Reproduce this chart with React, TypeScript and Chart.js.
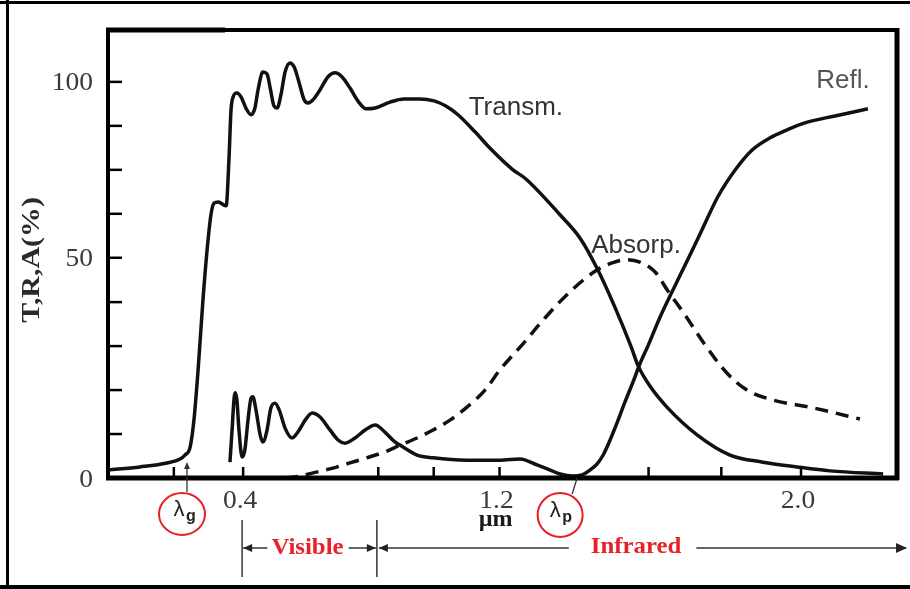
import React, { useEffect, useRef } from "react";
import { Chart, registerables } from "chart.js";

Chart.register(...registerables);

// ---- data (x in µm, y in %) ----
const TRANSM_X = [0, 0.092, 0.17, 0.208, 0.222, 0.237, 0.248, 0.26, 0.274, 0.286, 0.297, 0.306, 0.318, 0.329, 0.341, 0.349, 0.355, 0.361, 0.372, 0.384, 0.398, 0.413, 0.424, 0.433, 0.447, 0.459, 0.468, 0.479, 0.488, 0.499, 0.511, 0.525, 0.537, 0.551, 0.566, 0.577, 0.592, 0.612, 0.635, 0.655, 0.675, 0.698, 0.722, 0.745, 0.771, 0.814, 0.854, 0.9, 0.941, 0.975, 1.01, 1.059, 1.102, 1.166, 1.206, 1.305, 1.362, 1.411, 1.46, 1.509, 1.53, 1.564, 1.613, 1.7, 1.795, 1.89, 1.988, 2.084, 2.237];
const TRANSM_Y = [2.0, 2.8, 3.8, 4.8, 5.8, 7.8, 14.6, 27.3, 44.9, 57.6, 66.4, 69.4, 69.7, 69.2, 68.7, 80.3, 92.9, 96.2, 97.2, 96.2, 93.4, 91.7, 93.4, 98.0, 102.5, 102.0, 98.5, 93.9, 93.4, 96.7, 102.5, 104.8, 103.8, 100.0, 95.5, 94.7, 95.5, 98.0, 101.3, 102.3, 101.3, 98.5, 95.1, 93.2, 93.4, 94.9, 95.7, 95.7, 95.2, 93.9, 91.7, 87.4, 83.3, 78.0, 75.5, 66.4, 60.6, 53.0, 43.7, 33.3, 28.3, 23.2, 17.9, 10.9, 5.8, 4.0, 2.8, 1.8, 1.0];

const REFL_X = [0.352, 0.358, 0.364, 0.367, 0.372, 0.378, 0.387, 0.395, 0.404, 0.413, 0.418, 0.427, 0.439, 0.447, 0.459, 0.47, 0.482, 0.494, 0.511, 0.531, 0.548, 0.569, 0.589, 0.612, 0.641, 0.664, 0.684, 0.713, 0.742, 0.771, 0.799, 0.828, 0.843, 0.892, 0.938, 1.036, 1.131, 1.189, 1.238, 1.276, 1.305, 1.342, 1.368, 1.391, 1.411, 1.429, 1.449, 1.469, 1.492, 1.515, 1.535, 1.558, 1.593, 1.636, 1.674, 1.714, 1.76, 1.812, 1.859, 1.911, 1.96, 2.009, 2.098, 2.193];
const REFL_Y = [4.0, 12.1, 20.2, 21.5, 19.7, 12.1, 5.3, 7.1, 14.6, 20.2, 20.5, 17.2, 10.9, 9.1, 12.1, 17.7, 18.9, 17.2, 12.6, 10.1, 11.6, 14.6, 16.4, 15.4, 12.1, 9.6, 8.8, 10.1, 12.1, 13.4, 11.6, 9.1, 8.3, 5.8, 5.1, 4.5, 4.5, 4.8, 3.3, 2.0, 1.0, 0.5, 0.8, 2.0, 3.5, 5.8, 9.6, 13.9, 19.2, 24.2, 28.8, 33.3, 40.6, 48.5, 55.3, 62.6, 71.0, 78.0, 82.8, 85.9, 87.9, 89.6, 91.4, 93.2];

const ABS_X = [0.511, 0.554, 0.592, 0.649, 0.698, 0.747, 0.799, 0.843, 0.892, 0.938, 0.987, 1.036, 1.088, 1.131, 1.195, 1.261, 1.333, 1.411, 1.455, 1.498, 1.535, 1.579, 1.616, 1.665, 1.723, 1.786, 1.844, 1.919, 2.035, 2.17];
const ABS_Y = [0, 0.5, 1.3, 2.5, 3.8, 5.1, 6.6, 8.3, 10.1, 12.1, 14.6, 17.9, 22.2, 27.3, 33.6, 40.4, 47.0, 52.5, 54.3, 55.1, 54.5, 52.0, 47.2, 41.2, 33.6, 26.5, 22.2, 19.7, 17.7, 14.9];

const X_TICKS = [0.19, 0.39, 0.78, 0.94, 1.13, 1.56, 1.77, 2.0];
const X_TICK_LABELS = ["", "0.4", "", "", "1.2", "", "", "2.0"];
const Y_TICKS = [0, 11.1, 22.2, 33.3, 44.4, 55.6, 66.7, 77.8, 88.9, 100];
const Y_TICK_LABELS = ["0", "", "", "", "", "50", "", "", "", "100"];

const LAMBDA_G = 0.228;
const LAMBDA_P = 1.351;
const VISIBLE_RANGE = [0.387, 0.776];

const SERIES_LABELS = [
  { text: "Transm.", x: 1.177, y: 93.4, color: "#333" },
  { text: "Refl.", x: 2.121, y: 100.2, color: "#555" },
  { text: "Absorp.", x: 1.524, y: 58.6, color: "#333" },
];

const RED = "rgb(232,32,40)";
const SERIF = '"Liberation Serif", "DejaVu Serif", serif';
const SANS = '"Liberation Sans", Arial, sans-serif';

function pts(xs: number[], ys: number[]) {
  return xs.map((x, i) => ({ x, y: ys[i] }));
}

function txt(
  ctx: CanvasRenderingContext2D,
  s: string,
  x: number,
  y: number,
  font: string,
  color: string,
  align: CanvasTextAlign = "center",
  sx = 1
) {
  ctx.save();
  ctx.translate(x, y);
  ctx.scale(sx, 1);
  ctx.font = font;
  ctx.fillStyle = color;
  ctx.textAlign = align;
  ctx.textBaseline = "middle";
  ctx.fillText(s, 0, 0);
  ctx.restore();
}

function arrowHead(ctx: CanvasRenderingContext2D, x: number, y: number, dx: number, dy: number, len = 9, half = 4) {
  const px = -dy, py = dx;
  ctx.beginPath();
  ctx.moveTo(x, y);
  ctx.lineTo(x - dx * len + px * half, y - dy * len + py * half);
  ctx.lineTo(x - dx * len - px * half, y - dy * len - py * half);
  ctx.closePath();
  ctx.fill();
}

function line(ctx: CanvasRenderingContext2D, x1: number, y1: number, x2: number, y2: number) {
  ctx.beginPath();
  ctx.moveTo(x1, y1);
  ctx.lineTo(x2, y2);
  ctx.stroke();
}

const overlay = {
  id: "overlay",
  afterDatasetsDraw(chart: any) {
    const ctx: CanvasRenderingContext2D = chart.ctx;
    const { left, right, top, bottom } = chart.chartArea;
    const X = (v: number) => chart.scales.x.getPixelForValue(v);
    const Y = (v: number) => chart.scales.y.getPixelForValue(v);
    const W = chart.width;
    const H = chart.height;
    ctx.save();

    // outer frame (left, top, bottom)
    ctx.strokeStyle = "#000";
    ctx.lineWidth = 3;
    line(ctx, 7.5, 0, 7.5, H);
    line(ctx, 0, 2.5, W, 2.5);
    ctx.lineWidth = 4;
    line(ctx, 0, H - 2, W, H - 2);

    // plot box
    ctx.lineWidth = 4;
    ctx.strokeRect(left, top, right - left, bottom - top);
    ctx.lineWidth = 5;
    line(ctx, left - 2, top, left + 117, top);
    line(ctx, right, top - 2, right, bottom + 2);
    line(ctx, left - 2, bottom, right + 2, bottom);

    // y ticks + labels
    ctx.lineWidth = 2.5;
    Y_TICKS.forEach((v, i) => {
      const y = Y(v);
      if (i > 0) line(ctx, left, y, left + 14, y);
      const lab = Y_TICK_LABELS[i];
      if (lab) txt(ctx, lab, left - 15, y + 2, `25px ${SERIF}`, "#3a3a3a", "right", 1.1);
    });

    // x ticks + labels
    X_TICKS.forEach((v, i) => {
      const x = X(v);
      line(ctx, x, bottom, x, bottom - 11);
      const lab = X_TICK_LABELS[i];
      if (lab) txt(ctx, lab, x - 3, bottom + 23, `25px ${SERIF}`, "#3a3a3a", "center", 1.1);
    });
    txt(ctx, "µm", X(X_TICKS[4]) - 4, bottom + 42, `bold 24px ${SERIF}`, "#1a1a1a");

    // y axis title
    ctx.save();
    ctx.translate(32, (top + bottom) / 2 + 6);
    ctx.rotate(-Math.PI / 2);
    ctx.scale(1.15, 1);
    ctx.font = `bold 26px ${SERIF}`;
    ctx.fillStyle = "#2a2a2a";
    ctx.textAlign = "center";
    ctx.textBaseline = "middle";
    ctx.fillText("T,R,A(%)", 0, 0);
    ctx.restore();

    // series labels
    SERIES_LABELS.forEach((l) => txt(ctx, l.text, X(l.x), Y(l.y), `26px ${SANS}`, l.color));

    // lambda_g marker
    ctx.strokeStyle = "#333";
    ctx.fillStyle = "#333";
    ctx.lineWidth = 1.3;
    const gx = X(LAMBDA_G);
    line(ctx, gx, bottom + 14, gx, bottom - 12);
    arrowHead(ctx, gx, bottom - 16, 0, -1, 7, 3);
    const gcx = gx - 5, gcy = bottom + 36;
    ctx.strokeStyle = RED;
    ctx.lineWidth = 2;
    ctx.beginPath();
    ctx.ellipse(gcx, gcy, 23, 21, 0, 0, Math.PI * 2);
    ctx.stroke();
    txt(ctx, "λ", gcx - 3, gcy - 4, `22px ${SANS}`, "#222");
    txt(ctx, "g", gcx + 9, gcy + 3, `bold 16px ${SANS}`, "#222");

    // lambda_p marker
    const pxl = X(LAMBDA_P);
    const pcx = pxl - 16, pcy = bottom + 37;
    ctx.strokeStyle = "#333";
    ctx.lineWidth = 1.3;
    line(ctx, pcx + 12, pcy - 21, pxl + 1, bottom);
    ctx.strokeStyle = RED;
    ctx.lineWidth = 2;
    ctx.beginPath();
    ctx.ellipse(pcx, pcy, 22.5, 22, 0, 0, Math.PI * 2);
    ctx.stroke();
    txt(ctx, "λ", pcx - 5, pcy - 4, `22px ${SANS}`, "#222");
    txt(ctx, "p", pcx + 7, pcy + 3, `bold 16px ${SANS}`, "#222");

    // Visible / Infrared bands
    const v1 = X(VISIBLE_RANGE[0]);
    const v2 = X(VISIBLE_RANGE[1]);
    const ay = bottom + 70;
    ctx.strokeStyle = "#333";
    ctx.fillStyle = "#222";
    ctx.lineWidth = 1.5;
    line(ctx, v1, bottom + 42, v1, bottom + 99);
    line(ctx, v2, bottom + 42, v2, bottom + 99);

    const visFont = `bold 23px ${SERIF}`;
    ctx.font = visFont;
    const visW = ctx.measureText("Visible").width * 1.08;
    const visC = (v1 + v2) / 2 - 2;
    ctx.lineWidth = 1.5;
    line(ctx, v1 + 1, ay, visC - visW / 2 - 4, ay);
    line(ctx, visC + visW / 2 + 5, ay, v2 - 1, ay);
    arrowHead(ctx, v1 + 1, ay, -1, 0, 9, 4);
    arrowHead(ctx, v2 - 1, ay, 1, 0, 9, 4);
    txt(ctx, "Visible", visC, ay, visFont, RED, "center", 1.08);

    ctx.font = visFont;
    const irW = ctx.measureText("Infrared").width * 1.08;
    const irC = X(1.524);
    line(ctx, v2 + 2, ay, irC - irW / 2 - 22, ay);
    line(ctx, irC + irW / 2 + 15, ay, W - 4, ay);
    arrowHead(ctx, v2 + 2, ay, -1, 0, 9, 4);
    arrowHead(ctx, W - 3, ay, 1, 0, 11, 5);
    txt(ctx, "Infrared", irC, ay - 1, visFont, RED, "center", 1.08);

    ctx.restore();
  },
};

export default function App() {
  const ref = useRef<HTMLCanvasElement | null>(null);

  useEffect(() => {
    document.body.style.margin = "0";
    const canvas = ref.current;
    if (!canvas) return;
    const base = {
      borderColor: "#111",
      borderWidth: 3.5,
      pointRadius: 0,
      fill: false,
      cubicInterpolationMode: "monotone" as const,
    };
    const chart = new Chart(canvas, {
      type: "line",
      data: {
        datasets: [
          { ...base, label: "Transm.", data: pts(TRANSM_X, TRANSM_Y) },
          { ...base, label: "Refl.", data: pts(REFL_X, REFL_Y) },
          { ...base, label: "Absorp.", data: pts(ABS_X, ABS_Y), borderDash: [13, 8] },
        ],
      },
      options: {
        responsive: false,
        animation: false,
        devicePixelRatio: 1,
        layout: { padding: { left: 108, top: 30, right: 13, bottom: 111 } },
        plugins: { legend: { display: false }, tooltip: { enabled: false } },
        scales: {
          x: { type: "linear", min: 0, max: 2.277, display: false },
          y: { type: "linear", min: 0, max: 113.1, display: false },
        },
      },
      plugins: [overlay],
    });
    return () => chart.destroy();
  }, []);

  return <canvas ref={ref} width={910} height={589} style={{ display: "block", width: 910, height: 589 }} />;
}
